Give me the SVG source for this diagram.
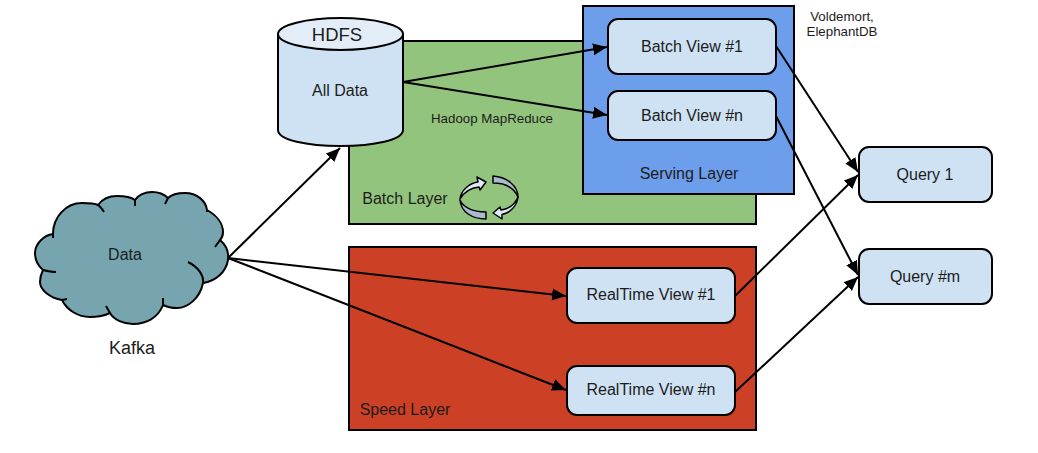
<svg xmlns="http://www.w3.org/2000/svg" width="1038" height="453" viewBox="0 0 1038 453">
<style>
text{font-family:"Liberation Sans",Arial,sans-serif;fill:#1c1c1c;text-anchor:middle;font-size:16px}
.box{fill:#cfe2f3;stroke:#000;stroke-width:2}
.layer{stroke:#000;stroke-width:2}
.c{fill:none;stroke:#000;stroke-width:2;marker-end:url(#a)}
.o{fill:none;stroke:#000;stroke-width:2}
.s{font-size:13.3px}
</style>
<defs>
<marker id="a" markerUnits="userSpaceOnUse" markerWidth="16" markerHeight="13" refX="14" refY="6.500" orient="auto"><path d="M0,0.500L14,6.500L0,12.500z" fill="#000"/></marker>
</defs>
<g id="batch-layer">
<rect class="layer" x="349" y="41" width="407" height="183" fill="#93c47d"/>
<text x="405" y="203.500">Batch Layer</text>
<text class="s" x="492" y="122.500">Hadoop MapReduce</text>
<g id="cycle" stroke="#000" stroke-width="1.500" stroke-linejoin="round">
<path d="M486,212V219C472,219 461,212 460,200C463,207 472,212 486,212z" fill="#a9bbd0"/>
<path d="M460,199C461,190 470,183 478,182L477,177L486,182L480,190L479,187C470,188 464,192 460,199z" fill="#dfeaf7"/>
<path d="M493,176V183C505,183 514,188 518,197C518,186 507,177 493,176z" fill="#a9bbd0"/>
<path d="M518,197C517,206 510,213 502,214.500L502,219L493,213L500,207L501,210C509,209 515,204 518,197z" fill="#dfeaf7"/>
</g>
</g>
<g id="speed-layer">
<rect class="layer" x="349" y="247" width="407" height="183" fill="#cc4125"/>
<text x="405" y="415">Speed Layer</text>
</g>
<g id="serving-layer">
<rect class="layer" x="583" y="6" width="211" height="188" fill="#6d9eeb"/>
<text x="689" y="179">Serving Layer</text>
</g>
<g id="hdfs">
<path class="box" d="M278,35V130C278,140 307,146 340.500,146C374,146 403,140 403,130V35z"/>
<ellipse cx="340.500" cy="34" rx="62.500" ry="16" fill="#e3edf8" stroke="#000" stroke-width="2"/>
<text x="337" y="41" style="font-size:18.500px">HDFS</text>
<text x="340" y="96">All Data</text>
</g>
<g id="data">
<path d="M53,234C53,217 66,203 82,203C88,203 94,203 98,205C103,198 110,196 117,196C125,196 131,197 135,200C138,195 145,192 152,192C158,192 164,194 168,198C171,195 178,193 185,193C197,193 206,201 207,210C216,215 223,223 223,232C223,235 222,238 220,240C226,245 229,252 228,260C226,272 216,281 203,283C200,298 188,308 177,308C172,308 167,307 163,305C158,318 146,324 133,324C124,324 114,320 110,313C104,316 97,317 90,317C78,317 67,310 62,300C50,298 40,290 40,282C40,278 41,274 43,270C37,265 35,258 35,253C35,244 44,235 53,234z" fill="#76a5af" stroke="#000" stroke-width="2" stroke-linejoin="round"/>
<path class="o" d="M53,234V238M98,205C100,206 102,209 104,212M135,200V206M168,198L165,204M207,210V212M220,240L215,247M188,262C198,267 204,275 203,283M163,305V298M110,313L106,306M62,300L67,299M43,270C47,271 52,272 56,272"/>
<text x="125" y="260">Data</text>
<text x="132" y="354" style="font-size:18px">Kafka</text>
</g>
<g id="view-1"><rect class="box" x="608" y="19" width="168" height="55" rx="10"/><text x="692" y="51.500">Batch View #1</text></g>
<g id="view-n"><rect class="box" x="608" y="91" width="168" height="49" rx="10"/><text x="692" y="121">Batch View #n</text></g>
<g id="rt-1"><rect class="box" x="567" y="268" width="168" height="55" rx="10"/><text x="651" y="300">RealTime View #1</text></g>
<g id="rt-n"><rect class="box" x="567" y="366" width="168" height="49" rx="10"/><text x="651" y="395">RealTime View #n</text></g>
<g id="query-1"><rect class="box" x="859" y="147" width="133" height="55" rx="10"/><text x="925" y="179.500">Query 1</text></g>
<g id="query-m"><rect class="box" x="859" y="249" width="133" height="55" rx="10"/><text x="925" y="282">Query #m</text></g>
<g id="storage-note"><text x="842" y="21" style="font-size:13.300px">Voldemort,</text><text x="842" y="36" style="font-size:13.300px">ElephantDB</text></g>
<g id="connectors">
<path class="c" d="M228,258L340,148"/>
<path class="c" d="M403,82L607,47"/>
<path class="c" d="M403,82L607,115"/>
<path class="c" d="M228,258L566,296"/>
<path class="c" d="M228,258L566,390"/>
<path class="c" d="M776,46L858,172"/>
<path class="c" d="M776,116L858,275"/>
<path class="c" d="M735,296L858,175"/>
<path class="c" d="M735,392L858,277"/>
</g>
</svg>
